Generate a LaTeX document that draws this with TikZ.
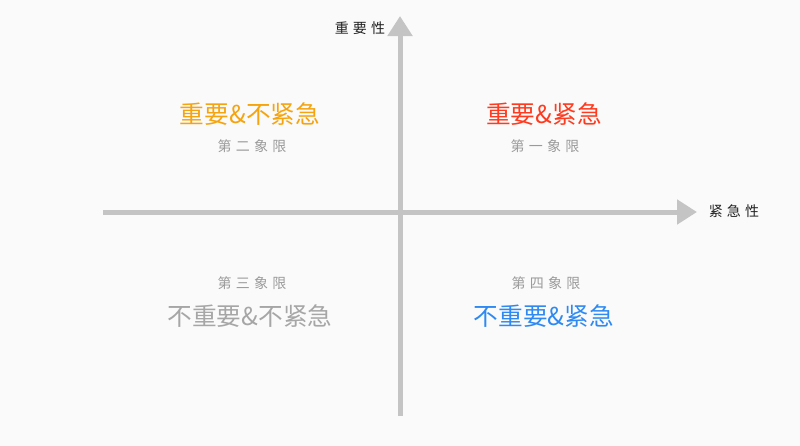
\documentclass[tikz,border=0pt]{standalone}
\usepackage{xcolor}
\usepackage{fontspec}
\usepackage{tikz}
\usetikzlibrary{arrows.meta,positioning}
\newfontfamily\cjk{Noto Sans CJK SC}
\newfontfamily\cjkspaced[LetterSpace=30]{Noto Sans CJK SC}
\definecolor{quadbg}{HTML}{FAFAFA}
\definecolor{axisgray}{HTML}{C4C4C4}
\definecolor{noteink}{HTML}{9A9A9A}
\definecolor{labelink}{HTML}{222222}
\definecolor{qone}{HTML}{FF3A1E}
\definecolor{qtwo}{HTML}{F5A40F}
\definecolor{qthree}{HTML}{A6A6A6}
\definecolor{qfour}{HTML}{2E8AF2}

\begin{document}
\begin{tikzpicture}[
  x=0.75pt, y=-0.75pt,
  axis/.style={line width=3.75pt, draw=axisgray,
    -{Triangle[length=15pt, width=18pt]}},
  quadrant/.style={font=\cjk\fontsize{18.5}{20}\selectfont, inner sep=0pt},
  note/.style={font=\cjkspaced\fontsize{10.5}{12}\selectfont, text=noteink, inner sep=0pt},
  axislabel/.style={font=\cjkspaced\fontsize{10.5}{12}\selectfont, text=labelink, inner sep=0pt}
]
  \fill[quadbg] (0,0) rectangle (800,446);
  \useasboundingbox (0,0) rectangle (800,446);

  % axes
  \coordinate (xstart) at (103,212);
  \coordinate (xend) at (697,212);
  \coordinate (ystart) at (400,416);
  \coordinate (yend) at (400,16);
  \draw[axis] (xstart) -- (xend);
  \draw[axis] (ystart) -- (yend);

  \node[axislabel] (ylabel) at (360,28) {重要性};
  \node[axislabel] (xlabel) at (734,211) {紧急性};

  % quadrants
  \node[quadrant, text=qtwo] (two) at (250,114) {重要\&不紧急};
  \node[note] (twonote) at (252,146) {第二象限};
  \node[quadrant, text=qone] (one) at (544,114) {重要\&紧急};
  \node[note] (onenote) at (545,146) {第一象限};
  \node[note] (threenote) at (252,283) {第三象限};
  \node[quadrant, text=qthree] (three) at (250,316) {不重要\&不紧急};
  \node[note] (fournote) at (546,283) {第四象限};
  \node[quadrant, text=qfour] (four) at (544,316) {不重要\&紧急};
\end{tikzpicture}
\end{document}
